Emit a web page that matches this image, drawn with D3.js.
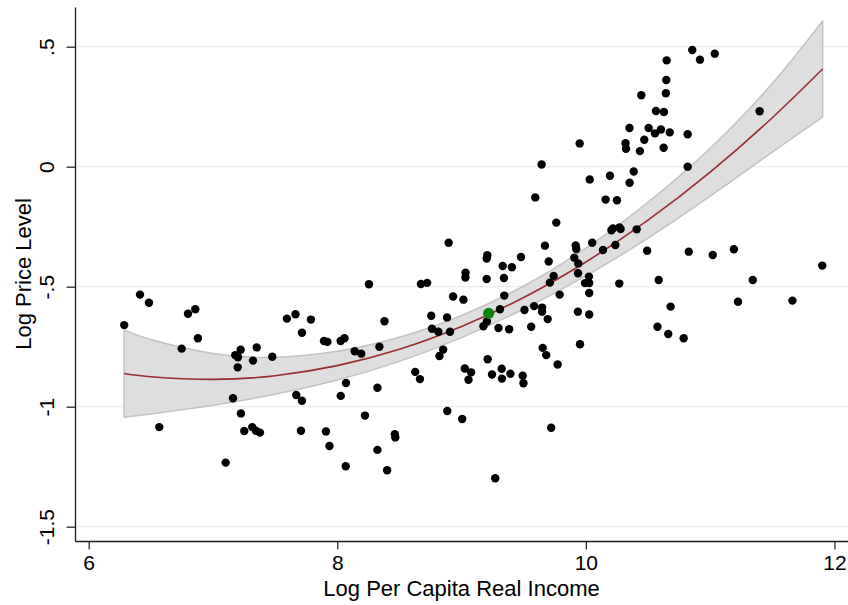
<!DOCTYPE html>
<html>
<head>
<meta charset="utf-8">
<script src="https://cdn.jsdelivr.net/npm/d3@7"></script>
<style>
  html, body { margin: 0; padding: 0; background: #fff; }
  svg { display: block; }
  text { font-family: "Liberation Sans", Arial, sans-serif; fill: #000; }
</style>
</head>
<body>
<svg id="chart" width="848" height="605"></svg>
<script>
// Log per capita real income (x) and log price level (y) for each country
const incomeX = [
  6.286, 6.413, 6.485, 6.799, 6.858, 6.879, 6.748, 6.568, 7.223, 7.179,
  7.201, 7.352, 7.322, 7.477, 7.199, 7.161, 7.225, 7.252, 7.316, 7.346,
  7.378, 7.102, 7.595, 7.664, 7.788, 7.716, 7.893, 7.921, 7.670, 7.716,
  7.708, 7.909, 7.937, 8.027, 8.058, 8.140, 8.193, 8.339, 8.380, 8.255,
  8.070, 8.028, 8.323, 8.223, 8.068, 8.323, 8.401, 8.463, 8.467, 8.627,
  8.665, 8.673, 8.723, 8.756, 8.762, 8.813, 8.883, 8.907, 8.852, 8.822,
  8.896, 8.932, 9.015, 9.032, 9.031, 8.885, 9.005, 9.026, 9.077, 9.056,
  9.210, 9.245, 9.323, 9.325, 9.393, 9.492, 9.498, 9.271, 9.176, 9.204,
  9.297, 9.383, 9.309, 9.344, 9.341, 9.202, 9.207, 9.202, 9.331, 9.405,
  9.478, 9.506, 9.560, 9.584, 9.648, 9.648, 9.693, 9.653, 9.681, 9.773,
  9.721, 9.789, 9.936, 9.953, 9.671, 9.701, 9.711, 9.741, 9.762, 9.593,
  9.644, 9.950, 9.918, 9.923, 9.907, 9.939, 9.937, 10.025, 9.993, 10.027,
  10.027, 10.027, 10.051, 10.138, 10.237, 10.269, 10.493, 10.586, 10.682, 10.576,
  10.663, 10.787, 10.828, 11.021, 11.191, 11.343, 11.902, 11.224, 11.662, 10.206,
  10.218, 10.270, 10.280, 10.409, 10.159, 10.250, 10.031, 10.194, 10.385, 10.352,
  10.319, 10.323, 10.351, 10.470, 10.435, 10.505, 10.556, 10.604, 10.675, 10.626,
  10.819, 10.819, 10.446, 10.564, 10.628, 10.644, 10.647, 10.650, 10.856, 10.918,
  11.037, 11.398
];
const priceY = [
  -0.660, -0.533, -0.567, -0.613, -0.594, -0.715, -0.758, -1.085, -0.763, -0.785,
  -0.794, -0.753, -0.808, -0.792, -0.836, -0.965, -1.028, -1.101, -1.085, -1.100,
  -1.108, -1.233, -0.633, -0.615, -0.637, -0.692, -0.726, -0.730, -0.951, -0.975,
  -1.100, -1.103, -1.164, -0.726, -0.715, -0.769, -0.779, -0.750, -0.644, -0.490,
  -0.901, -0.955, -0.921, -1.037, -1.248, -1.180, -1.265, -1.115, -1.128, -0.855,
  -0.885, -0.489, -0.484, -0.621, -0.675, -0.688, -0.628, -0.688, -0.762, -0.789,
  -0.317, -0.541, -0.554, -0.442, -0.462, -1.018, -1.051, -0.841, -0.857, -0.888,
  -0.802, -0.866, -0.842, -0.883, -0.863, -0.871, -0.902, -1.298, -0.665, -0.645,
  -0.672, -0.677, -0.594, -0.537, -0.464, -0.468, -0.369, -0.383, -0.414, -0.419,
  -0.376, -0.597, -0.667, -0.581, -0.587, -0.604, -0.635, -0.755, -0.785, -0.824,
  -1.088, -0.533, -0.604, -0.740, -0.329, -0.395, -0.483, -0.455, -0.233, -0.128,
  0.009, 0.097, -0.328, -0.343, -0.379, -0.403, -0.444, -0.458, -0.485, -0.485,
  -0.526, -0.616, -0.317, -0.347, -0.326, -0.487, -0.350, -0.472, -0.583, -0.667,
  -0.697, -0.715, -0.354, -0.368, -0.344, -0.472, -0.412, -0.563, -0.558, -0.265,
  -0.257, -0.253, -0.260, -0.261, -0.137, -0.140, -0.053, -0.038, -0.020, -0.067,
  0.098, 0.075, 0.161, 0.112, 0.065, 0.161, 0.139, 0.155, 0.143, 0.079,
  0.135, 0.000, 0.298, 0.232, 0.228, 0.306, 0.361, 0.443, 0.486, 0.446,
  0.471, 0.231
];

// Highlighted country
const highlightX = [9.218];
const highlightY = [-0.611];

// Quadratic fit with its 95% confidence band, sampled along income
const fitX  = [6.285, 6.5, 7, 7.5, 8, 8.5, 9, 9.5, 10, 10.5, 11, 11.5, 11.905];
const fitY  = [-0.862, -0.875, -0.886, -0.871, -0.829, -0.761, -0.666, -0.545, -0.397, -0.223, -0.023, 0.204, 0.407];
const fitLo = [-1.044, -1.030, -0.994, -0.948, -0.889, -0.811, -0.712, -0.593, -0.455, -0.298, -0.123, 0.061, 0.207];
const fitHi = [-0.680, -0.720, -0.778, -0.794, -0.769, -0.711, -0.620, -0.497, -0.339, -0.148, 0.077, 0.347, 0.607];

// Axis ticks and labels
const xTicks = [6, 8, 10, 12];
const xTickLabels = ["6", "8", "10", "12"];
const yTicks = [-1.5, -1, -0.5, 0, 0.5];
const yTickLabels = ["-1.5", "-1", "-.5", "0", ".5"];

const xTitle = "Log Per Capita Real Income";
const yTitle = "Log Price Level";

(function draw() {
  const svg = d3.select("#chart");
  const plotLeft = 75, plotRight = 848, plotTop = 7, plotBottom = 541;

  const x = d3.scaleLinear().domain([5.89, 12.109]).range([plotLeft, plotRight]);
  const y = d3.scaleLinear().domain([-1.5596, 0.6654]).range([plotBottom, plotTop]);

  // Horizontal grid lines
  svg.append("g")
    .selectAll("line")
    .data(yTicks)
    .join("line")
    .attr("x1", plotLeft).attr("x2", plotRight)
    .attr("y1", d => y(d)).attr("y2", d => y(d))
    .attr("stroke", "#e7eef1")
    .attr("stroke-width", 1.3);

  // Confidence band
  const fitData = fitX.map((v, i) => ({ x: v, y: fitY[i], lo: fitLo[i], hi: fitHi[i] }));
  const band = d3.area()
    .x(d => x(d.x))
    .y0(d => y(d.lo))
    .y1(d => y(d.hi))
    .curve(d3.curveNatural);
  svg.append("path")
    .datum(fitData)
    .attr("d", band)
    .attr("fill", "#dedede")
    .attr("stroke", "#c3c3c3")
    .attr("stroke-width", 1.5)
    .attr("stroke-linejoin", "round");

  // Fitted line
  const fitLine = d3.line()
    .x(d => x(d.x))
    .y(d => y(d.y))
    .curve(d3.curveNatural);
  svg.append("path")
    .datum(fitData)
    .attr("d", fitLine)
    .attr("fill", "none")
    .attr("stroke", "#9a2c30")
    .attr("stroke-width", 1.6);

  // Country points
  const pts = incomeX.map((v, i) => ({ x: v, y: priceY[i] }));
  svg.append("g")
    .selectAll("circle")
    .data(pts)
    .join("circle")
    .attr("cx", d => x(d.x))
    .attr("cy", d => y(d.y))
    .attr("r", 4.2)
    .attr("fill", "#000");

  svg.append("g")
    .selectAll("circle")
    .data(highlightX.map((v, i) => ({ x: v, y: highlightY[i] })))
    .join("circle")
    .attr("cx", d => x(d.x))
    .attr("cy", d => y(d.y))
    .attr("r", 5.6)
    .attr("fill", "#0a840a");

  // X axis
  const xAxis = svg.append("g")
    .attr("transform", `translate(0,${plotBottom})`)
    .call(d3.axisBottom(x).tickValues(xTicks).tickSize(8.5).tickSizeOuter(0)
      .tickFormat((d, i) => xTickLabels[i]));
  xAxis.select(".domain").attr("stroke", "#1a1a1a").attr("stroke-width", 1.3);
  xAxis.selectAll(".tick line").attr("stroke", "#1a1a1a").attr("stroke-width", 1.2);
  xAxis.selectAll(".tick text")
    .attr("y", 29).attr("dy", 0)
    .style("font-size", "21px")
    .style("font-family", "'Liberation Sans', Arial, sans-serif");

  // Y axis
  const yAxis = svg.append("g")
    .attr("transform", `translate(${plotLeft},0)`)
    .call(d3.axisLeft(y).tickValues(yTicks).tickSize(8.5).tickSizeOuter(0)
      .tickFormat((d, i) => yTickLabels[i]));
  yAxis.select(".domain").attr("stroke", "#1a1a1a").attr("stroke-width", 1.3);
  yAxis.selectAll(".tick line").attr("stroke", "#1a1a1a").attr("stroke-width", 1.2);
  yAxis.selectAll(".tick text")
    .attr("x", 0).attr("y", -21).attr("dy", 0)
    .attr("text-anchor", "middle")
    .attr("transform", "rotate(-90)")
    .style("font-size", "21px")
    .style("font-family", "'Liberation Sans', Arial, sans-serif");

  // Axis titles
  svg.append("text")
    .attr("x", (plotLeft + plotRight) / 2)
    .attr("y", 596)
    .attr("text-anchor", "middle")
    .style("font-size", "22px")
    .text(xTitle);

  svg.append("text")
    .attr("transform", `translate(31,${(plotTop + plotBottom) / 2}) rotate(-90)`)
    .attr("text-anchor", "middle")
    .style("font-size", "22px")
    .text(yTitle);
})();
</script>
</body>
</html>
